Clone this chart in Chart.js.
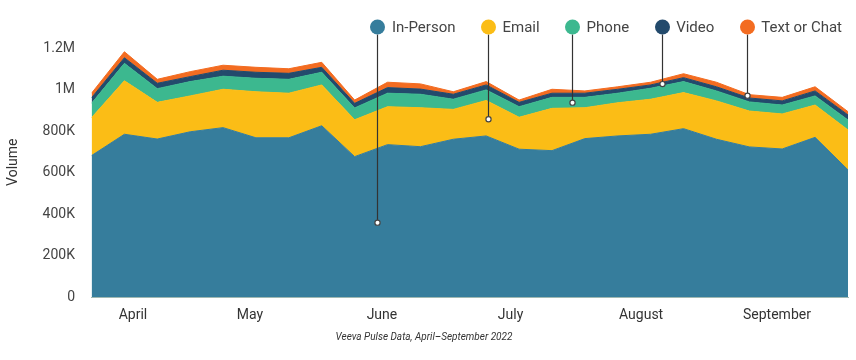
<!DOCTYPE html>
<html>
<head>
<meta charset="utf-8">
<script src="https://cdn.jsdelivr.net/npm/chart.js@4.4.0/dist/chart.umd.min.js"></script>
<style>
html,body{margin:0;padding:0;background:#ffffff;}
#wrap{width:856px;height:360px;position:relative;}
</style>
</head>
<body>
<div id="wrap"><canvas id="c" width="856" height="360"></canvas></div>
<script>
// ---- data ----
const weekLabels = ['Week 1','Week 2','Week 3','Week 4','Week 5','Week 6','Week 7','Week 8','Week 9','Week 10','Week 11','Week 12',
  'Week 13','Week 14','Week 15','Week 16','Week 17','Week 18','Week 19','Week 20','Week 21','Week 22','Week 23','Week 24'];
const seriesNames = ['In-Person','Email','Phone','Video','Text or Chat'];
const inPerson = [682000,785000,762000,797000,817000,768000,768000,826000,677000,735000,725000,761000,
  777000,713000,706000,764000,777000,785000,812000,761000,724000,714000,770000,613000];
const email = [183000,258000,177000,173000,185000,222000,215000,197000,178000,183000,188000,144000,
  171000,154000,204000,149000,160000,169000,174000,185000,173000,169000,156000,193000];
const phone = [69000,84000,66000,69000,63000,65000,67000,61000,57000,65000,65000,49000,
  51000,51000,53000,50000,46000,53000,53000,48000,44000,43000,44000,48000];
const video = [27000,27000,26000,24000,29000,29000,29000,24000,22000,27000,25000,24000,
  24000,21000,20000,20000,19000,16000,19000,20000,19000,20000,24000,24000];
const textChat = [22000,29000,19000,24000,24000,24000,22000,24000,16000,26000,25000,12000,
  16000,11000,19000,11000,12000,13000,19000,22000,16000,17000,20000,16000];
const monthLabels = ['April','May','June','July','August','September'];
const monthTickAt = [1.26,4.82,8.83,12.74,16.71,20.84];
const yTickValues = [0,200000,400000,600000,800000,1000000,1200000];
const yTickLabels = ['0','200K','400K','600K','800K','1M','1.2M'];
const caption = 'Veeva Pulse Data, April\u2013September 2022';

const colors = ['#367d9c','#fbbd16','#3cb88f','#234a6c','#f36c21'];
const allSeries = [inPerson,email,phone,video,textChat];

Chart.defaults.font.family = 'Roboto';

function bandMid(chart, i, x) {
  const interp = (meta) => {
    const pts = meta.data;
    for (let k = 0; k < pts.length - 1; k++) {
      const a = pts[k], b = pts[k+1];
      if (x >= a.x && x <= b.x) {
        const t = (x - a.x) / (b.x - a.x);
        return a.y + t * (b.y - a.y);
      }
    }
    return pts[pts.length-1].y;
  };
  const top = interp(chart.getDatasetMeta(i));
  const bottom = i === 0 ? chart.scales.y.getPixelForValue(0) : interp(chart.getDatasetMeta(i-1));
  return (top + bottom) / 2;
}

const legendLeaders = {
  id: 'legendLeaders',
  afterDraw(chart) {
    const ctx = chart.ctx;
    ctx.save();
    ctx.font = '15px Roboto';
    const r = 7.5, gapText = 7, gapItem = 25, right = 842, cy = 27;
    const n = seriesNames.length;
    const pos = [];
    let x = right;
    for (let i = n - 1; i >= 0; i--) {
      const w = ctx.measureText(seriesNames[i]).width;
      const textX = x - w;
      const cx = textX - gapText - r;
      pos[i] = {cx, textX};
      x = cx - r - gapItem;
    }
    for (let i = 0; i < n; i++) {
      const cx = Math.round(pos[i].cx) + 0.5;
      const endY = bandMid(chart, i, cx);
      ctx.strokeStyle = '#333333';
      ctx.lineWidth = 1.2;
      ctx.beginPath();
      ctx.moveTo(cx, cy + r);
      ctx.lineTo(cx, endY);
      ctx.stroke();
      ctx.beginPath();
      ctx.arc(cx, endY, 2.6, 0, Math.PI * 2);
      ctx.fillStyle = '#ffffff';
      ctx.fill();
      ctx.lineWidth = 1.2;
      ctx.strokeStyle = '#444444';
      ctx.stroke();
      ctx.beginPath();
      ctx.arc(cx, cy, r, 0, Math.PI * 2);
      ctx.fillStyle = colors[i];
      ctx.fill();
      ctx.fillStyle = '#444444';
      ctx.textBaseline = 'middle';
      ctx.textAlign = 'left';
      ctx.fillText(seriesNames[i], pos[i].textX, cy + 1);
    }
    ctx.restore();
  }
};

new Chart(document.getElementById('c'), {
  type: 'line',
  data: {
    labels: weekLabels,
    datasets: allSeries.map((vals, i) => ({
      label: seriesNames[i],
      data: vals.map((v, k) => ({x: k, y: v})),
      backgroundColor: colors[i],
      borderColor: colors[i],
      borderWidth: 1,
      pointRadius: 0,
      pointHoverRadius: 0,
      tension: 0,
      fill: i === 0 ? 'origin' : '-1'
    }))
  },
  options: {
    responsive: false,
    animation: false,
    events: [],
    layout: {padding: {top: 27.5, right: 8, left: 0, bottom: 0}},
    plugins: {
      legend: {display: false},
      tooltip: {enabled: false},
      title: {
        display: true,
        position: 'bottom',
        text: caption,
        color: '#333333',
        font: {size: 10, style: 'italic', weight: 'normal', family: 'Roboto'},
        padding: {top: 0, bottom: 17}
      }
    },
    scales: {
      x: {
        type: 'linear',
        min: 0,
        max: 23,
        grid: {display: false, drawTicks: false},
        border: {display: true, color: '#9fb8b2', width: 1},
        afterFit: (s) => { s.height = 34; },
        afterBuildTicks: (s) => { s.ticks = monthTickAt.map(v => ({value: v})); },
        ticks: {
          padding: 10,
          color: '#333333',
          font: {size: 14},
          autoSkip: false,
          maxRotation: 0,
          callback: (v, idx) => monthLabels[idx]
        }
      },
      y: {
        stacked: true,
        min: 0,
        max: 1300000,
        grid: {display: false, drawTicks: false},
        border: {display: false},
        afterFit: (s) => { s.width = 91.5; },
        afterBuildTicks: (s) => { s.ticks = yTickValues.map(v => ({value: v})); },
        ticks: {
          padding: 16.5,
          color: '#444444',
          font: {size: 14},
          callback: (v, idx) => yTickLabels[idx]
        },
        title: {
          display: true,
          text: 'Volume',
          color: '#333333',
          font: {size: 14},
          padding: {top: 5, bottom: 0}
        }
      }
    }
  },
  plugins: [legendLeaders]
});
</script>
</body>
</html>
